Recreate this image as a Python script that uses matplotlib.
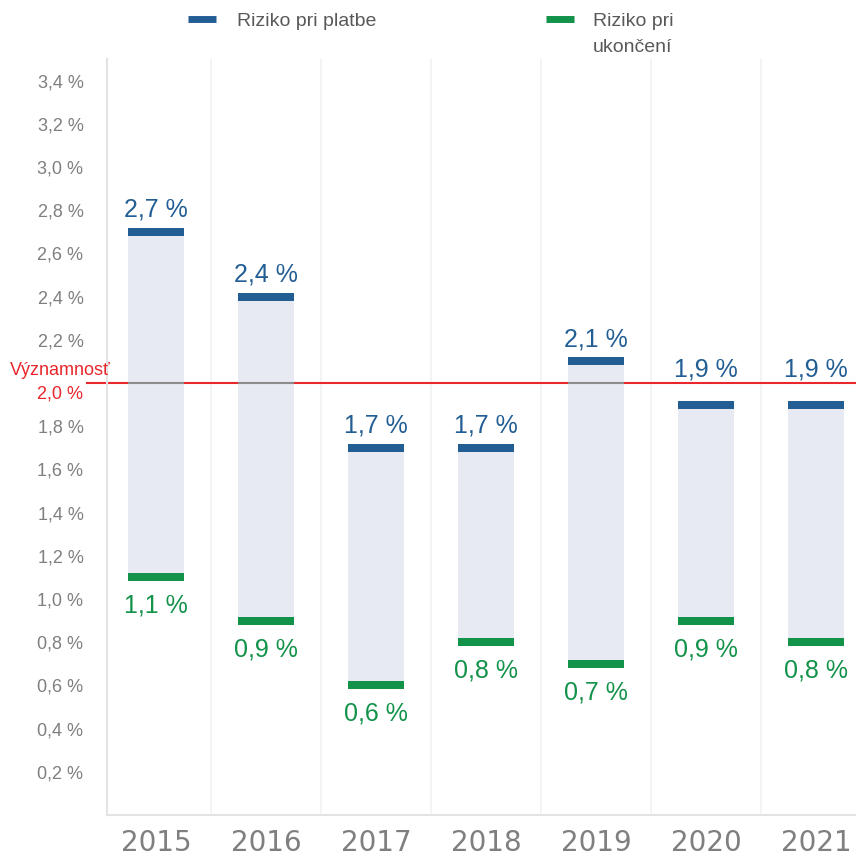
import matplotlib
matplotlib.use("Agg")
import matplotlib.pyplot as plt
import matplotlib.transforms as mtransforms
from matplotlib.lines import Line2D

years = ["2015", "2016", "2017", "2018", "2019", "2020", "2021"]
payment_risk = [2.7, 2.4, 1.7, 1.7, 2.1, 1.9, 1.9]
termination_risk = [1.1, 0.9, 0.6, 0.8, 0.7, 0.9, 0.8]
threshold = 2.0
threshold_label = "Významnosť"
y_ticks = [0.2, 0.4, 0.6, 0.8, 1.0, 1.2, 1.4, 1.6, 1.8, 2.0,
           2.2, 2.4, 2.6, 2.8, 3.0, 3.2, 3.4]
legend_labels = ["Riziko pri platbe", "Riziko pri", "ukončení"]

BLUE = "#225e94"
GREEN = "#13924a"
RED = "#e8262b"
FILL = "#e7e9f3"
GREY_TXT = "#7f7f7f"
LEGEND_TXT = "#595959"


def pct(v):
    return f"{v:.1f} %".replace(".", ",")


def main():
    plt.rcParams["font.family"] = ["Liberation Sans", "DejaVu Sans"]

    fig = plt.figure(figsize=(8.56, 8.57), dpi=100)
    ax = fig.add_axes([107 / 856, 1 - 815 / 857, 749 / 856, 756 / 857])

    ymax = 3.5
    px = ymax / 756  # one pixel in data units

    x = list(range(len(years)))
    width = 0.51
    cap = 8 * px

    lows = termination_risk
    highs = payment_risk
    heights = [h - l for h, l in zip(highs, lows)]

    ax.bar(x, heights, bottom=lows, width=width, color=FILL, zorder=2)

    # threshold line, red outside the bars, grey where it crosses them
    ax.axhline(threshold, xmin=-0.027, xmax=1, color=RED, lw=1.5,
               zorder=1, clip_on=False)
    for xi, lo, hi in zip(x, lows, highs):
        if lo < threshold < hi:
            ax.hlines(threshold, xi - width / 2, xi + width / 2,
                      color="#8c8c8c", lw=1.5, zorder=3)

    ax.bar(x, [cap] * len(x), bottom=[v - cap / 2 for v in highs],
           width=width, color=BLUE, zorder=4)
    ax.bar(x, [cap] * len(x), bottom=[v - cap / 2 for v in lows],
           width=width, color=GREEN, zorder=4)

    for xi, v in zip(x, highs):
        base = v + cap / 2 + 11 * px
        # keep labels clear of the threshold line
        if base < threshold < base + 22 * px:
            base = threshold + 6 * px
        ax.text(xi, base, pct(v), ha="center", va="baseline",
                color=BLUE, fontsize=18)
    for xi, v in zip(x, lows):
        ax.annotate(pct(v), (xi, v - cap / 2), xytext=(0, -9),
                    textcoords="offset points", ha="center",
                    va="top", color=GREEN, fontsize=18)

    ax.set_xlim(-0.445, 6.364)
    ax.set_ylim(0, ymax)

    for xi in x[:-1]:
        ax.axvline(xi + 0.5, color="#f2f2f2", lw=1.2, zorder=0)

    ax.set_xticks(x)
    ax.set_xticklabels(years, fontfamily="DejaVu Sans", fontsize=20,
                       color=GREY_TXT)
    ax.set_yticks(y_ticks)
    ax.set_yticklabels([pct(v) for v in y_ticks], fontsize=13,
                       color=GREY_TXT)
    ax.tick_params(axis="x", length=0, pad=10)
    ax.tick_params(axis="y", length=0, pad=17)

    for lab, v in zip(ax.get_yticklabels(), y_ticks):
        if abs(v - threshold) < 1e-9:
            lab.set_color(RED)
            lab.set_transform(lab.get_transform() + mtransforms.ScaledTranslation(
                0, -9 / 100, fig.dpi_scale_trans))

    ax.text(-97 / 749, threshold + 0.02, threshold_label, color=RED,
            fontsize=13, ha="left", va="bottom",
            transform=ax.get_yaxis_transform())

    for side in ["top", "right"]:
        ax.spines[side].set_visible(False)
    for side in ["left", "bottom"]:
        ax.spines[side].set_color("#e3e3e3")
        ax.spines[side].set_linewidth(1.5)

    # legend drawn by hand at the top of the figure
    fig.add_artist(Line2D([188 / 856, 216 / 856], [1 - 18.5 / 857] * 2,
                          color=BLUE, lw=5, solid_capstyle="butt"))
    fig.text(237 / 856, 1 - 26 / 857, legend_labels[0], fontsize=14,
             color=LEGEND_TXT, va="baseline", ha="left")
    fig.add_artist(Line2D([546 / 856, 574 / 856], [1 - 18.5 / 857] * 2,
                          color=GREEN, lw=5, solid_capstyle="butt"))
    fig.text(593 / 856, 1 - 26 / 857, legend_labels[1], fontsize=14,
             color=LEGEND_TXT, va="baseline", ha="left")
    fig.text(593 / 856, 1 - 52 / 857, legend_labels[2], fontsize=14,
             color=LEGEND_TXT, va="baseline", ha="left")

    fig.savefig("out.png", dpi=100)
    plt.close(fig)


if __name__ == "__main__":
    main()
